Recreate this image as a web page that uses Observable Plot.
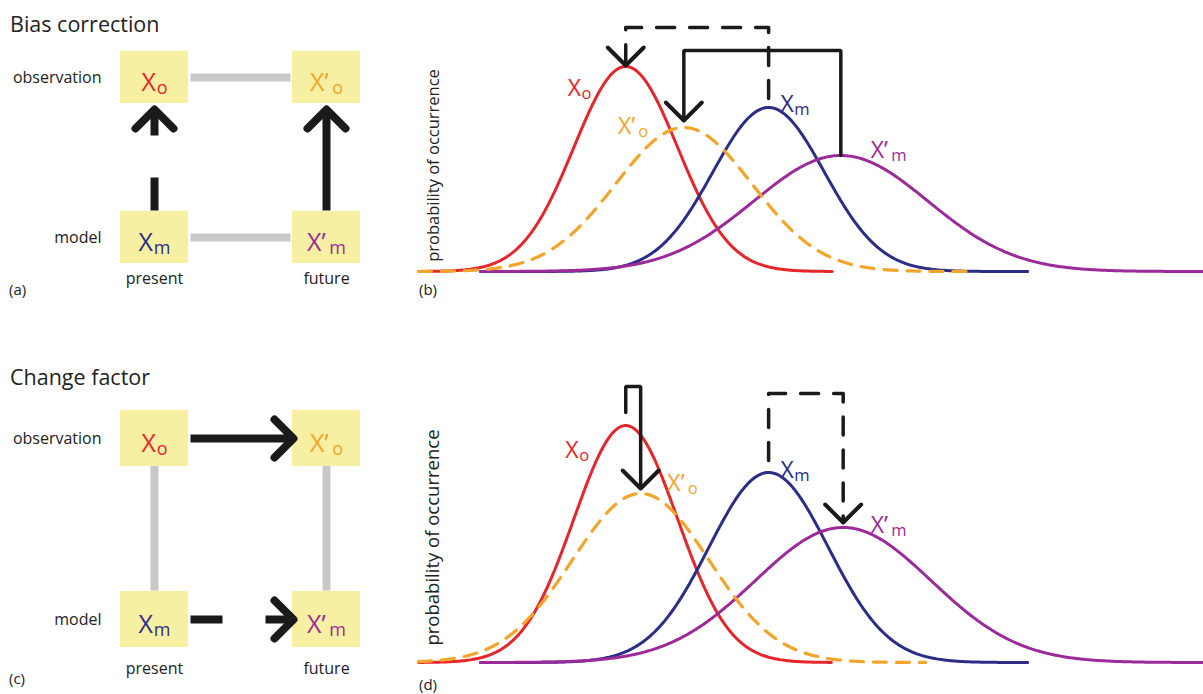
<!DOCTYPE html>
<html><head><meta charset="utf-8">
<script src="https://cdn.jsdelivr.net/npm/d3@7"></script>
<script src="https://cdn.jsdelivr.net/npm/@observablehq/plot@0.6"></script>
<style>
body{margin:0;background:#fff;font-family:"Open Sans",sans-serif;}
#wrap{position:relative;width:1203px;height:694px;overflow:hidden;background:#fff;}
.abs{position:absolute;}
.title{font-size:21.5px;color:#222;line-height:1;white-space:nowrap;}
.tag{font-size:15px;color:#222;line-height:1;white-space:nowrap;}
</style></head><body>
<div id="wrap"></div>
<script>
// ---------------- data ----------------
const series = ["X_o", "X’_o", "X_m", "X’_m"];           // "_" marks the subscript
const seriesColors = ["#e5262b", "#f2a52a", "#2b2d87", "#9b2b98"];
const periods = ["present", "future"];
const sources = ["observation", "model"];
const boxPeriod = ["present", "future", "present", "future"];
const boxSource = ["observation", "observation", "model", "model"];
const axisLabel = "probability of occurrence";

// panel (b): bias correction distributions (value units 0–100, density units)
const bMean  = [26.4, 33.8, 44.6, 53.8];
const bSd    = [6.6, 8.7, 7.1, 11.1];
const bPeak  = [0.82, 0.576, 0.656, 0.464];
const bStart = [0, 0, 7.9, 7.9];
const bEnd   = [52.7, 69.9, 77.6, 100];
const bLabelX = [19.0, 25.4, 46.1, 57.6];
const bLabelY = [0.704, 0.552, 0.64, 0.456];

// panel (d): change factor distributions
const dMean  = [26.4, 28.3, 44.6, 54.1];
const dSd    = [6.6, 8.7, 7.6, 11.2];
const dPeak  = [0.948, 0.676, 0.76, 0.54];
const dStart = [0, 0, 7.9, 7.9];
const dEnd   = [52.6, 64.6, 77.6, 100];
const dLabelX = [18.7, 31.7, 46.1, 57.6];
const dLabelY = [0.82, 0.688, 0.74, 0.52];

// annotation arrows in the distribution panels
const bArrows = [
  {from: "X_m", to: "X_o", top: 0.976, startGap: 0.036, endGap: 0.004, dashed: true},
  {from: "X’_m", to: "X’_o", top: 0.884, startGap: 0.0, endGap: 0.028, dashed: false}
];
const dArrows = [
  {from: "X_o", to: "X’_o", top: 1.104, startGap: 0.052, endGap: 0.02, dashed: false},
  {from: "X_m", to: "X’_m", top: 1.076, startGap: 0.048, endGap: 0.02, dashed: true}
];

// schematic panels (a) and (c)
const aLinks = [
  {p1: "present", s1: "observation", p2: "future", s2: "observation"},
  {p1: "present", s1: "model", p2: "future", s2: "model"}
];
const aArrows = [
  {p1: "present", s1: "model", p2: "present", s2: "observation", dashed: true},
  {p1: "future", s1: "model", p2: "future", s2: "observation", dashed: false}
];
const cLinks = [
  {p1: "present", s1: "observation", p2: "present", s2: "model"},
  {p1: "future", s1: "observation", p2: "future", s2: "model"}
];
const cArrows = [
  {p1: "present", s1: "observation", p2: "future", s2: "observation", dashed: false},
  {p1: "present", s1: "model", p2: "future", s2: "model", dashed: true}
];

// ---------------- helpers ----------------
const FONT = "'Open Sans', sans-serif";
const INK = "#1a1a1a";
const chevron = {draw(ctx, size) {
  const r = Math.sqrt(size / Math.PI);
  ctx.moveTo(-r, -r); ctx.lineTo(0, 0); ctx.lineTo(r, -r);
}};

function curveRows(mean, sd, peak, start, end) {
  const rows = [];
  series.forEach((s, i) => {
    const n = Math.round((end[i] - start[i]) / 0.2);
    for (let k = 0; k <= n; k++) {
      const x = start[i] + (end[i] - start[i]) * k / n;
      rows.push({series: s, x, y: peak[i] * Math.exp(-0.5 * ((x - mean[i]) / sd[i]) ** 2)});
    }
  });
  return rows;
}
function bracketPoints(arrows, mean, peak) {
  return arrows.flatMap((a, k) => {
    const i = series.indexOf(a.from), j = series.indexOf(a.to);
    return [
      {k, dashed: a.dashed, x: mean[i], y: peak[i] + a.startGap},
      {k, dashed: a.dashed, x: mean[i], y: a.top},
      {k, dashed: a.dashed, x: mean[j], y: a.top},
      {k, dashed: a.dashed, x: mean[j], y: peak[j] + a.endGap}
    ];
  });
}
function subscripts(svg) {
  d3.select(svg).selectAll("text").each(function() {
    const t = this.textContent;
    if (!t.includes("_")) return;
    const [main, sub] = t.split("_");
    const sel = d3.select(this);
    sel.text(null);
    sel.append("tspan").text(main);
    sel.append("tspan").attr("font-size", "0.72em").attr("dy", "0.2em")
      .attr("dx", main.length > 1 ? "0.2em" : "0.04em").text(sub);
  });
  return svg;
}
const wrap = document.getElementById("wrap");
function place(node, left, top, width) {
  const d = document.createElement("div");
  d.className = "abs";
  d.style.left = left + "px"; d.style.top = top + "px";
  if (width) d.style.width = width + "px";
  if (typeof node === "string") d.innerHTML = node; else d.appendChild(node);
  wrap.appendChild(d);
  return d;
}

function schematic(o) {
  const cells = series.map((s, i) => ({s, period: boxPeriod[i], source: boxSource[i]}));
  const arrowOpts = {x1: "p1", y1: "s1", x2: "p2", y2: "s2", stroke: INK, strokeWidth: 8,
    headLength: 0, insetStart: o.arrowIn[0], insetEnd: o.arrowIn[1], strokeLinecap: "butt"};
  return subscripts(Plot.plot({
    width: 400, height: o.height,
    marginLeft: 120, marginRight: 40, marginTop: o.mt, marginBottom: o.mb,
    style: {fontFamily: FONT, fontSize: "16px", color: "#222", background: "transparent", overflow: "visible"},
    x: {type: "band", domain: periods, paddingInner: 0.605, paddingOuter: 0, tickSize: 0, tickPadding: o.xPad, label: null},
    y: {type: "band", domain: sources, paddingInner: o.yPi, paddingOuter: 0, tickSize: 0, tickPadding: 19, label: null},
    color: {domain: series, range: seriesColors},
    marks: [
      Plot.arrow(o.links, {x1: "p1", y1: "s1", x2: "p2", y2: "s2", stroke: "#c8c8c8", strokeWidth: 8,
        headLength: 0, insetStart: o.linkIn[0], insetEnd: o.linkIn[1], strokeLinecap: "butt"}),
      Plot.cell(cells, {x: "period", y: "source", fill: "#f7f0a3"}),
      Plot.text(cells, {x: "period", y: "source", text: "s", fill: "s", fontSize: 25, dy: 5}),
      Plot.arrow(o.arrows.filter(a => !a.dashed), arrowOpts),
      Plot.arrow(o.arrows.filter(a => a.dashed), {...arrowOpts, strokeDasharray: o.dash}),
      Plot.dot(o.arrows, {x: "p2", y: "s2", symbol: chevron, r: 19, rotate: o.rot, dx: o.hdx, dy: o.hdy,
        stroke: INK, strokeWidth: 8, fill: "none", strokeLinejoin: "round", strokeLinecap: "round"})
    ]
  }));
}

function curvePanel(o) {
  const rows = curveRows(o.mean, o.sd, o.peak, o.start, o.end);
  const pts = bracketPoints(o.arrows, o.mean, o.peak);
  const labels = series.map((s, i) => ({s, x: o.labelX[i], y: o.labelY[i]}));
  const heads = o.arrows.map(a => {
    const j = series.indexOf(a.to);
    return {x: o.mean[j], y: o.peak[j] + a.endGap};
  });
  return subscripts(Plot.plot({
    width: 793, height: o.height, marginLeft: 8, marginRight: 0, marginTop: o.mt, marginBottom: o.mb,
    style: {fontFamily: FONT, fontSize: "15px", color: "#222", background: "transparent", overflow: "visible"},
    x: {domain: [0, 100], axis: null},
    y: {domain: [0, 1], axis: null},
    color: {domain: series, range: seriesColors},
    marks: [
      Plot.text([axisLabel], {text: d => d, frameAnchor: "left", textAnchor: "middle", lineAnchor: "middle",
        rotate: -90, dx: 15, dy: o.labelDy, fontSize: o.axisFont, fill: "#222"}),
      Plot.line(rows.filter(r => r.series !== "X’_o"), {x: "x", y: "y", z: "series", stroke: "series", strokeWidth: 3}),
      Plot.line(rows.filter(r => r.series === "X’_o"), {x: "x", y: "y", stroke: "series", strokeWidth: 3.2, strokeDasharray: "13,10"}),
      Plot.line(pts.filter(p => !p.dashed), {x: "x", y: "y", z: "k", stroke: INK, strokeWidth: 3.5, strokeLinejoin: "miter"}),
      Plot.line(pts.filter(p => p.dashed), {x: "x", y: "y", z: "k", stroke: INK, strokeWidth: 3.5, strokeDasharray: "18,15"}),
      Plot.dot(heads, {x: "x", y: "y", symbol: chevron, r: 18, stroke: INK, strokeWidth: 4, fill: "none", strokeLinejoin: "round", strokeLinecap: "round"}),
      Plot.text(labels, {x: "x", y: "y", text: "s", fill: "s", fontSize: 23, textAnchor: "start", lineAnchor: "bottom"})
    ]
  }));
}

// ---------------- layout ----------------
place(schematic({height: 300, mt: 50, mb: 37, yPi: 0.677, xPad: 9, links: aLinks, linkIn: [36, 36],
  arrows: aArrows, arrowIn: [27, 32], dash: "33,42,300", rot: 180, hdx: 0, hdy: 32}), 0, 0, 400);
place(schematic({height: 334, mt: 49, mb: 47, yPi: 0.692, xPad: 15, links: cLinks, linkIn: [26, 29],
  arrows: cArrows, arrowIn: [36, 33], dash: "32,43,300", rot: -90, hdx: -33, hdy: 0}), 0, 360, 400);
place(curvePanel({height: 300, mt: 21, mb: 29, mean: bMean, sd: bSd, peak: bPeak, start: bStart, end: bEnd,
  labelX: bLabelX, labelY: bLabelY, arrows: bArrows, labelDy: 19, axisFont: 16.5}), 410, 0, 793);
place(curvePanel({height: 334, mt: 52, mb: 32, mean: dMean, sd: dSd, peak: dPeak, start: dStart, end: dEnd,
  labelX: dLabelX, labelY: dLabelY, arrows: dArrows, labelDy: 0, axisFont: 18.5}), 410, 360, 793);

place('<div class="title">Bias correction</div>', 10, 13);
place('<div class="title">Change factor</div>', 10, 366);
place('<div class="tag">(a)</div>', 9, 282);
place('<div class="tag">(b)</div>', 419, 282);
place('<div class="tag">(c)</div>', 9, 671);
place('<div class="tag">(d)</div>', 419, 677);
</script>
</body></html>
